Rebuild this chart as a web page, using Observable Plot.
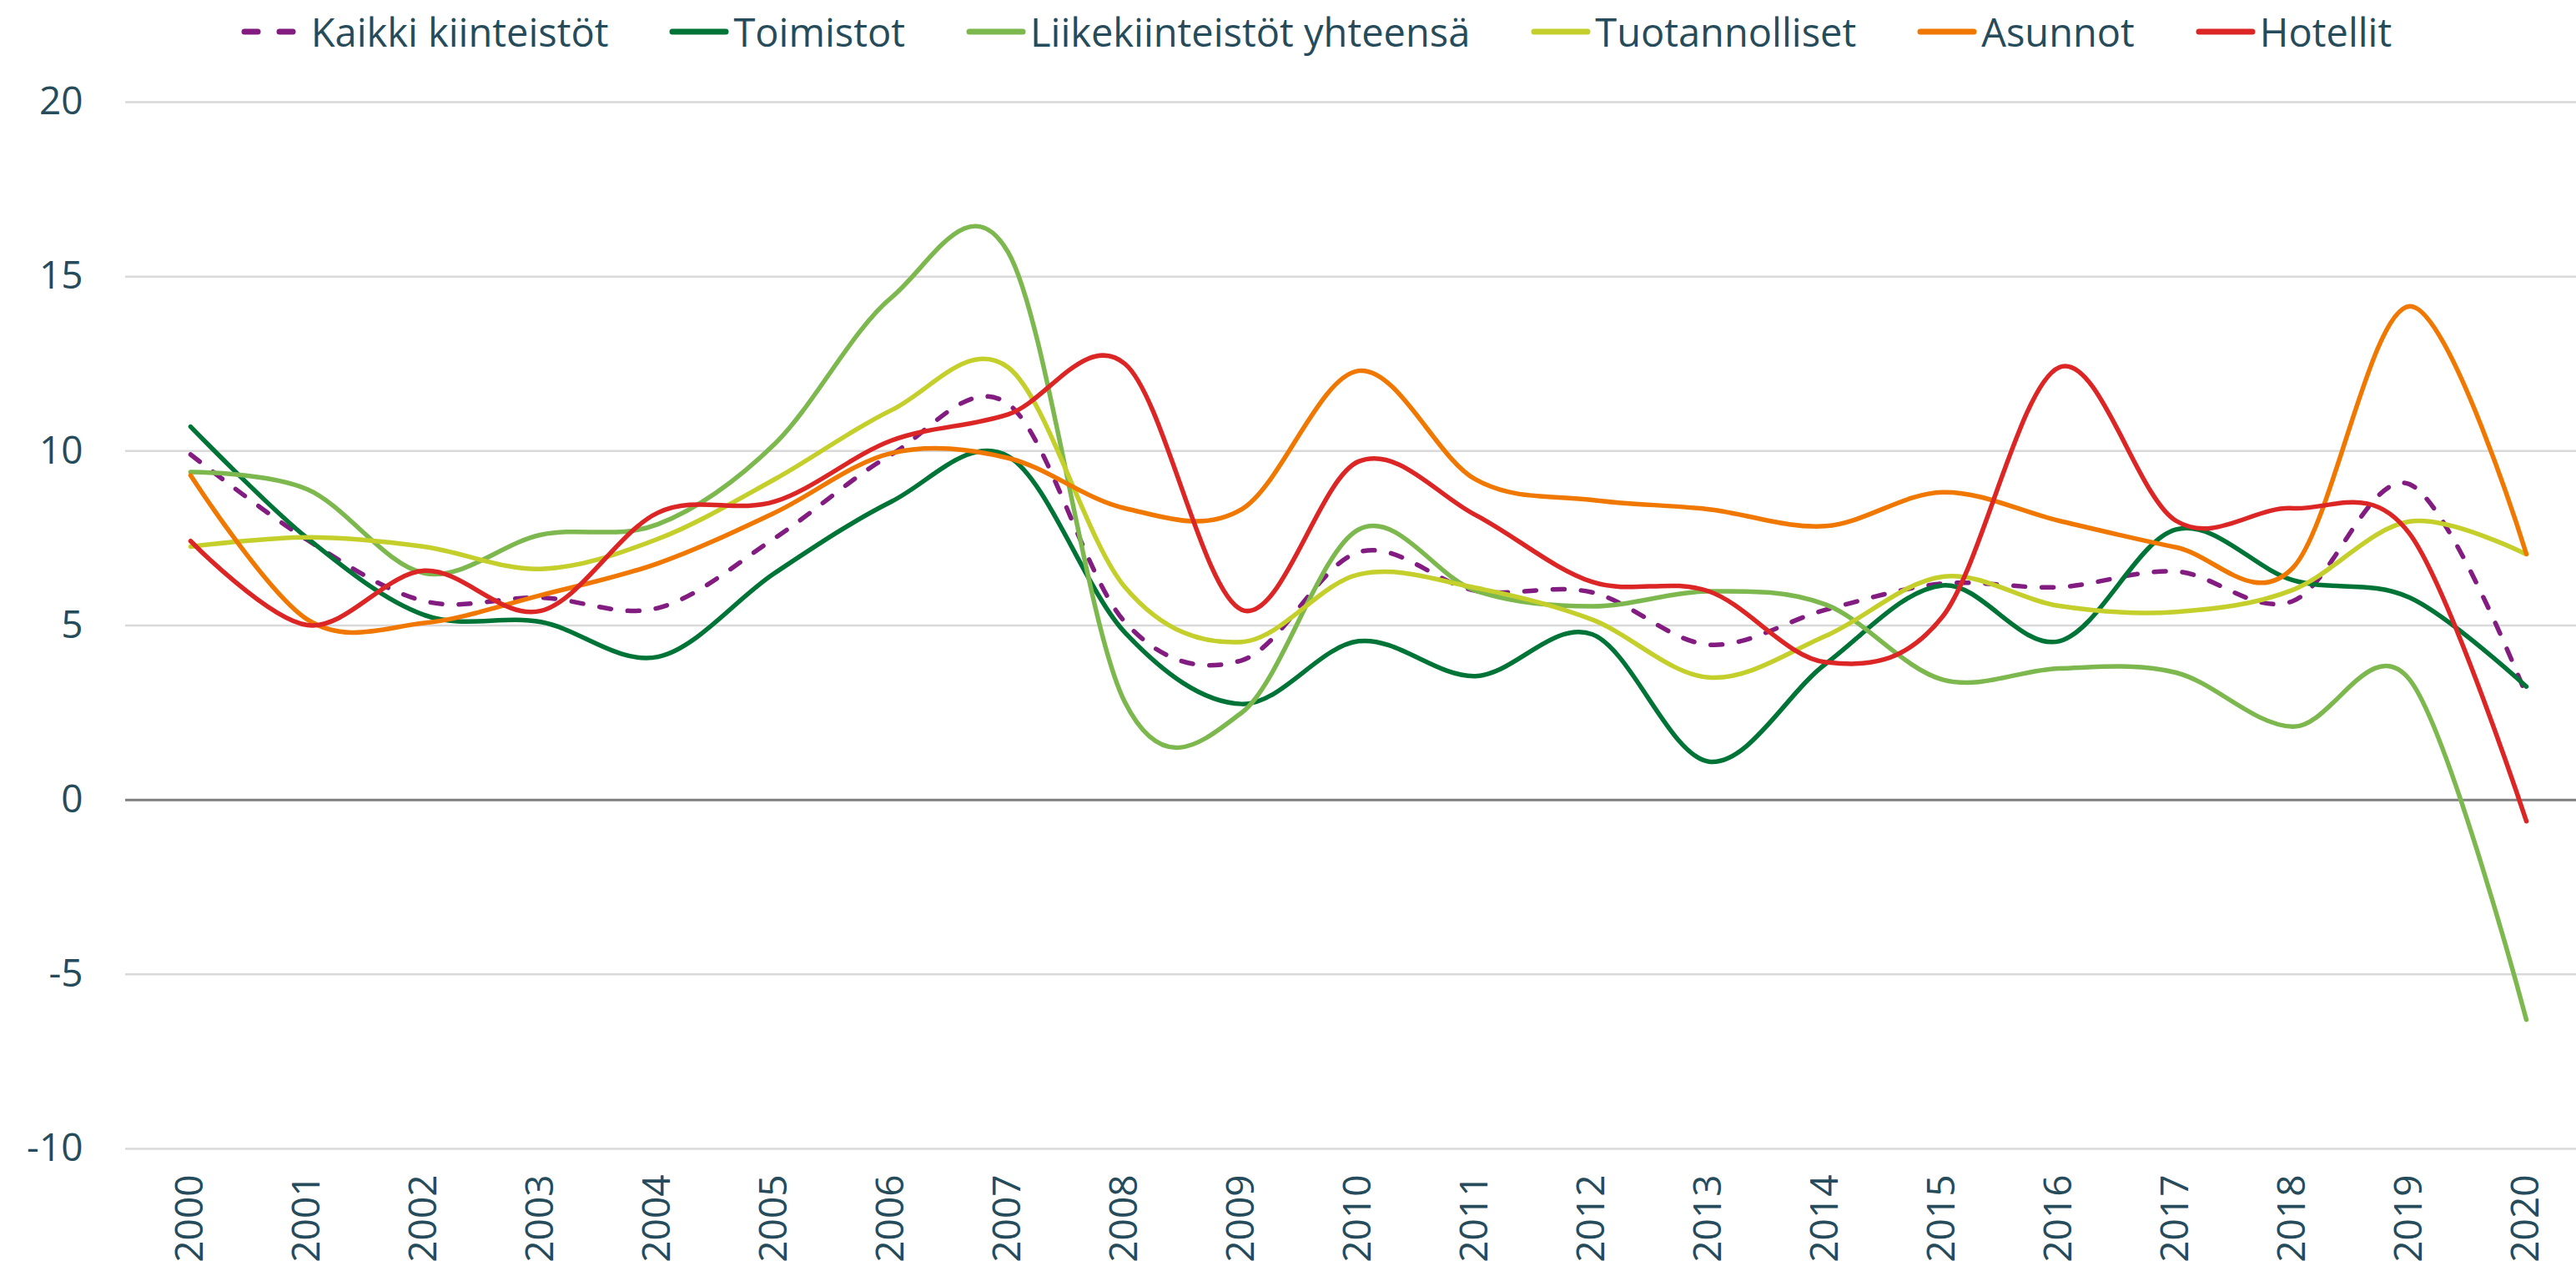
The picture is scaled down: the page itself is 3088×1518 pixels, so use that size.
<!DOCTYPE html>
<html>
<head>
<meta charset="utf-8">
<script src="https://cdn.jsdelivr.net/npm/d3@7"></script>
<script src="https://cdn.jsdelivr.net/npm/@observablehq/plot@0.6"></script>
<style>
  html, body { margin: 0; padding: 0; background: #ffffff; }
  body { width: 3088px; height: 1518px; overflow: hidden; font-family: "Open Sans", sans-serif; color: #264b5a; }
  #legend { height: 76px; display: flex; justify-content: center; align-items: center; padding-left: 68px; box-sizing: border-box; }
  .item { display: flex; align-items: center; margin-right: 73px; font-size: 47px; line-height: 1; white-space: nowrap; }
  .item:last-child { margin-right: 0; }
  .item svg { margin-right: 5px; }
  #chart svg { display: block; }
</style>
</head>
<body>
<div id="legend"></div>
<div id="chart"></div>
<script>
const years = [2000, 2001, 2002, 2003, 2004, 2005, 2006, 2007, 2008, 2009, 2010, 2011, 2012, 2013, 2014, 2015, 2016, 2017, 2018, 2019, 2020];
const seriesNames = ["Kaikki kiinteistöt", "Toimistot", "Liikekiinteistöt yhteensä", "Tuotannolliset", "Asunnot", "Hotellit"];
const seriesColors = ["#821c80", "#007437", "#7db84f", "#c4cf2b", "#f07800", "#dc2626"];
const kaikki    = [9.9, 7.45, 5.7, 5.8, 5.5, 7.5, 9.9, 11.35, 5.1, 4.0, 7.1, 6.0, 5.95, 4.45, 5.45, 6.2, 6.1, 6.55, 5.7, 9.05, 3.0];
const toimistot = [10.7, 7.5, 5.3, 5.1, 4.1, 6.5, 8.55, 9.85, 4.8, 2.75, 4.55, 3.55, 4.75, 1.1, 3.9, 6.15, 4.55, 7.75, 6.3, 5.8, 3.25];
const liike     = [9.4, 8.9, 6.5, 7.6, 7.9, 10.2, 14.4, 15.7, 2.8, 2.5, 7.75, 6.0, 5.55, 5.98, 5.6, 3.45, 3.77, 3.65, 2.1, 3.45, -6.3];
const tuot      = [7.26, 7.53, 7.26, 6.62, 7.48, 9.19, 11.17, 12.4, 6.1, 4.53, 6.46, 6.08, 5.17, 3.51, 4.7, 6.4, 5.56, 5.39, 6.02, 7.98, 7.04];
const asunnot   = [9.3, 5.17, 5.07, 5.87, 6.78, 8.23, 9.94, 9.8, 8.36, 8.33, 12.3, 9.19, 8.6, 8.33, 7.85, 8.82, 8.0, 7.24, 6.65, 14.15, 7.05];
const hotellit  = [7.42, 5.01, 6.57, 5.42, 8.23, 8.55, 10.3, 11.05, 12.5, 5.45, 9.7, 8.17, 6.25, 5.98, 3.95, 5.25, 12.4, 8.0, 8.36, 7.63, -0.61];
const yTicks = [-10, -5, 0, 5, 10, 15, 20];

const seriesValues = [kaikki, toimistot, liike, tuot, asunnot, hotellit];
const rows = [];
seriesNames.forEach((name, s) => {
  seriesValues[s].forEach((v, i) => rows.push({series: name, year: years[i], value: v}));
});

// Legend
const legend = document.getElementById("legend");
seriesNames.forEach((name, s) => {
  const item = document.createElement("div");
  item.className = "item";
  const dashed = s === 0;
  const w = dashed ? 79 : 72;
  let sw = `<svg width="${w}" height="14">`;
  if (dashed) {
    sw += `<line x1="4" y1="7" x2="20" y2="7" stroke="${seriesColors[s]}" stroke-width="7" stroke-linecap="round"/>`;
    sw += `<line x1="46" y1="7" x2="62" y2="7" stroke="${seriesColors[s]}" stroke-width="7" stroke-linecap="round"/>`;
  } else {
    sw += `<line x1="4" y1="7" x2="68" y2="7" stroke="${seriesColors[s]}" stroke-width="7" stroke-linecap="round"/>`;
  }
  sw += `</svg>`;
  item.innerHTML = sw + `<span>${name}</span>`;
  legend.appendChild(item);
});

const lineMarks = seriesNames.map((name, s) => Plot.line(rows.filter(d => d.series === name), {
  x: "year", y: "value",
  stroke: seriesColors[s],
  strokeWidth: 5.5,
  curve: "cardinal",
  strokeDasharray: s === 0 ? "14,20" : null,
  strokeLinecap: "round"
}));

const chart = Plot.plot({
  width: 3088,
  height: 1442,
  marginLeft: 150,
  marginRight: 0,
  marginTop: 46,
  marginBottom: 141,
  style: {fontFamily: "Open Sans, sans-serif", fontSize: "46px", color: "#264b5a", background: "#ffffff"},
  x: {type: "point", domain: years, range: [221, 3035], padding: 0, axis: null, label: null},
  y: {domain: [-10, 20], axis: null, label: null},
  marks: [
    Plot.ruleY(yTicks.filter(d => d !== 0), {stroke: "#d9d9d9", strokeWidth: 2.5}),
    Plot.ruleY([0], {stroke: "#7f7f7f", strokeWidth: 3}),
    Plot.axisY(yTicks, {tickSize: 0, tickPadding: 51, tickFormat: d => String(d), fontSize: 46, fill: "#264b5a", label: null}),
    Plot.axisX(years, {tickSize: 0, tickRotate: -90, tickPadding: 31, tickFormat: d => String(d), fontSize: 46, fill: "#264b5a", label: null}),
    ...lineMarks
  ]
});
document.getElementById("chart").appendChild(chart);
</script>
</body>
</html>
